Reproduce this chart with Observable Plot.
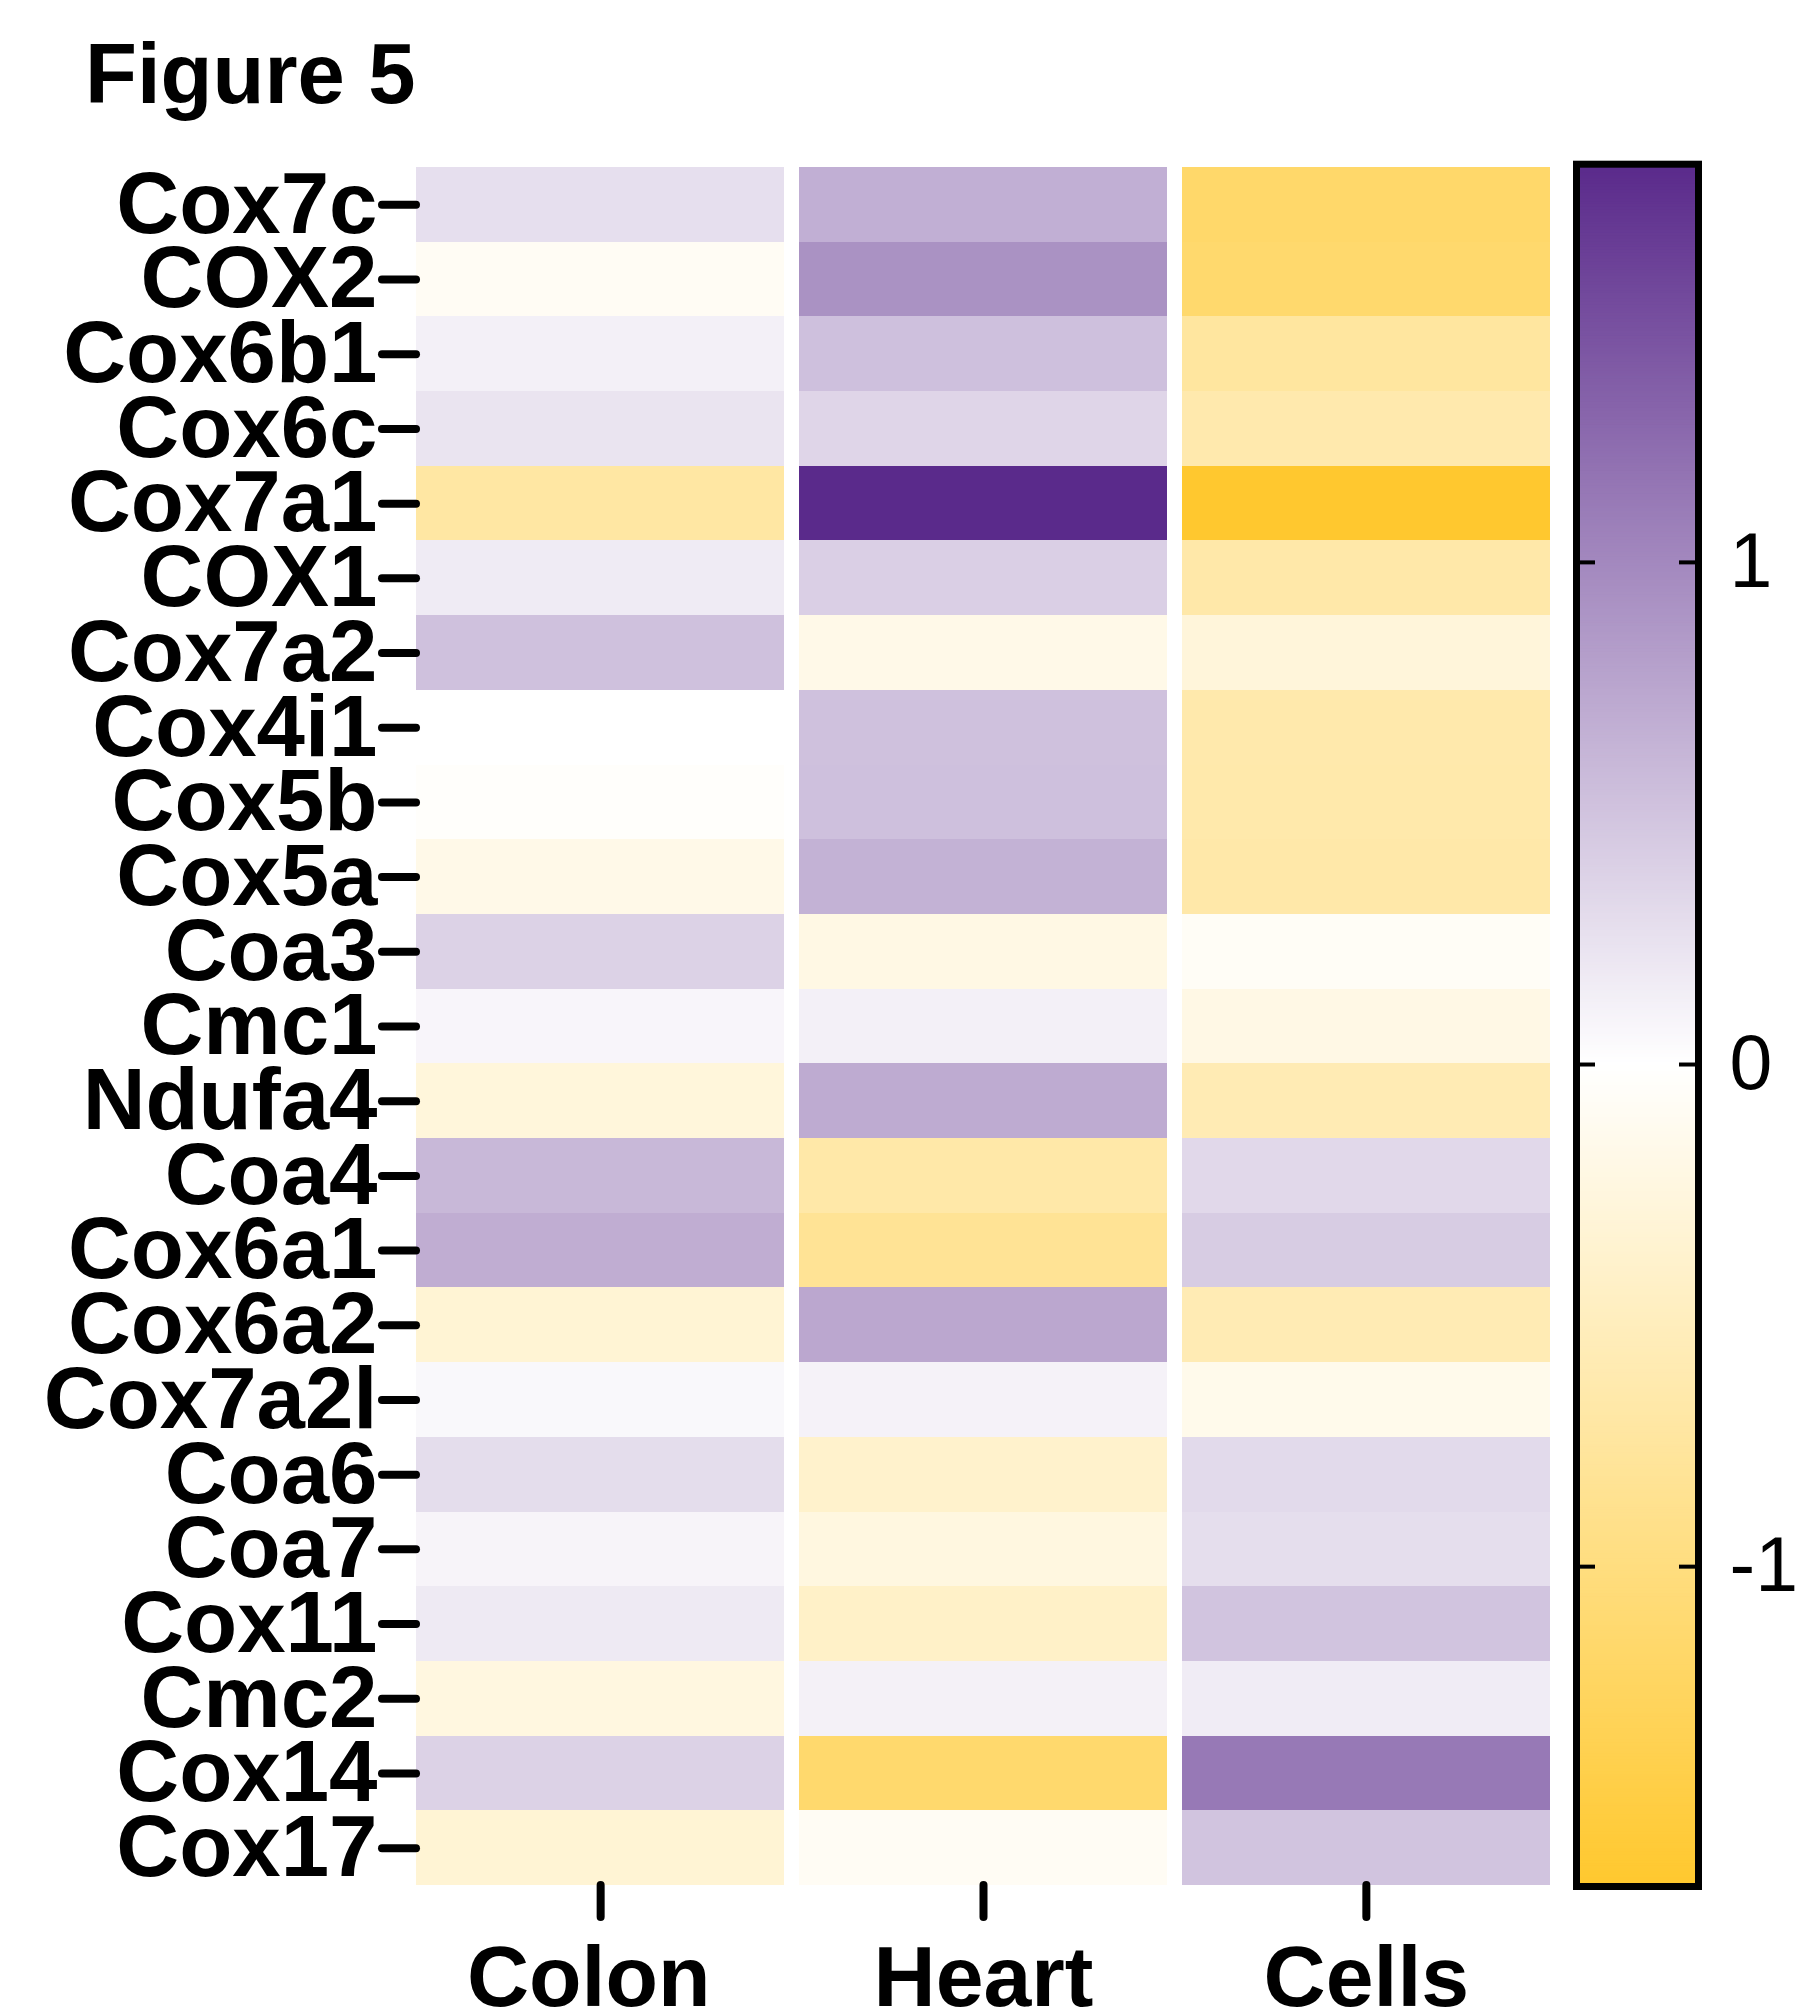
<!DOCTYPE html>
<html>
<head>
<meta charset="utf-8">
<script src="https://cdn.jsdelivr.net/npm/d3@7"></script>
<script src="https://cdn.jsdelivr.net/npm/@observablehq/plot@0.6"></script>
<style>
html, body { margin: 0; padding: 0; background: #fff; }
#wrap { position: relative; width: 1797px; height: 2014px; overflow: hidden; font-family: "Liberation Sans", Arial, sans-serif; }
#title { position: absolute; left: 85px; top: 31px; font-size: 85px; line-height: 85px; font-weight: bold; color: #000; white-space: nowrap; }
#main { position: absolute; left: 0; top: 120px; }
#bar { position: absolute; left: 1540px; top: 120px; }
#main [aria-label$="tick"] line, #main [aria-label$="tick"] path { stroke-linecap: round; }
</style>
</head>
<body>
<div id="wrap">
  <div id="title">Figure 5</div>
  <div id="main"></div>
  <div id="bar"></div>
</div>
<script>
// ---- data ----
const genes = ["Cox7c","COX2","Cox6b1","Cox6c","Cox7a1","COX1","Cox7a2","Cox4i1","Cox5b","Cox5a","Coa3","Cmc1","Ndufa4","Coa4","Cox6a1","Cox6a2","Cox7a2l","Coa6","Coa7","Cox11","Cmc2","Cox14","Cox17"];
const tissues = ["Colon", "Heart", "Cells"];
const colon = [0.27, -0.09, 0.13, 0.23, -0.72, 0.17, 0.52, 0.00, -0.03, -0.18, 0.38, 0.08, -0.28, 0.60, 0.69, -0.34, 0.06, 0.29, 0.09, 0.18, -0.24, 0.38, -0.34];
const heart = [0.67, 0.92, 0.53, 0.35, 1.79, 0.40, -0.18, 0.52, 0.53, 0.65, -0.21, 0.13, 0.71, -0.68, -0.83, 0.74, 0.11, -0.40, -0.24, -0.43, 0.12, -1.14, -0.09];
const cells = [-1.17, -1.14, -0.75, -0.64, -1.63, -0.67, -0.29, -0.65, -0.66, -0.67, -0.07, -0.20, -0.59, 0.33, 0.43, -0.59, -0.16, 0.31, 0.28, 0.50, 0.16, 1.13, 0.50];
const colorDomain = [-1.637, 0, 1.793];
const colorRange = ["#ffc82e", "#ffffff", "#5a2a8b"];
const barTicks = [-1, 0, 1];

const series = {Colon: colon, Heart: heart, Cells: cells};
const table = [];
tissues.forEach(t => genes.forEach((g, i) => table.push({tissue: t, gene: g, value: series[t][i]})));

const colorScale = {type: "linear", domain: colorDomain, range: colorRange, interpolate: "rgb"};
const font = "Liberation Sans, Arial, sans-serif";

const main = Plot.plot({
  width: 1560,
  height: 1894,
  marginLeft: 416,
  marginRight: 10,
  marginTop: 47,
  marginBottom: 129,
  style: {fontFamily: font, overflow: "visible", background: "transparent"},
  x: {domain: tissues, paddingInner: 0.038, paddingOuter: 0, round: false, label: null, axis: null},
  y: {domain: genes, padding: 0, round: false, label: null, axis: null},
  color: colorScale,
  marks: [
    Plot.cell(table, {x: "tissue", y: "gene", fill: "value", inset: 0, shapeRendering: "crispEdges"}),
    Plot.axisY({tickSize: 34, tickPadding: 5, fontSize: 87, fontWeight: "bold", strokeWidth: 8, label: null, fill: "black"}),
    Plot.axisX({tickSize: 32, tickPadding: 27, fontSize: 86, fontWeight: "bold", strokeWidth: 8, label: null, fill: "black",
      tickFormat: d => d === "Colon" ? "Colon\u00a0" : d})
  ]
});
document.getElementById("main").appendChild(main);

const lo = colorDomain[0], hi = colorDomain[colorDomain.length - 1];
const step = (hi - lo) / 600;
const gradient = d3.range(lo, hi, step);

const bar = Plot.plot({
  width: 257,
  height: 1800,
  marginLeft: 36,
  marginRight: 99,
  marginTop: 43.7,
  marginBottom: 34,
  style: {fontFamily: font, overflow: "visible", background: "transparent"},
  x: {domain: [0, 1], axis: null},
  y: {domain: [lo, hi], axis: null},
  color: colorScale,
  marks: [
    Plot.rect(gradient, {y1: d => d, y2: d => Math.min(d + step * 1.6, hi), fill: d => d + step / 2}),
    Plot.frame({stroke: "black", strokeWidth: 7}),
    Plot.tickY(barTicks, {y: d => d, stroke: "black", strokeWidth: 4, insetRight: 103}),
    Plot.tickY(barTicks, {y: d => d, stroke: "black", strokeWidth: 4, insetLeft: 103}),
    Plot.axisY({anchor: "right", ticks: barTicks, tickSize: 0, tickPadding: 31, fontSize: 77, label: null, fill: "black", tickFormat: d => String(d)})
  ]
});
document.getElementById("bar").appendChild(bar);
</script>
</body>
</html>
